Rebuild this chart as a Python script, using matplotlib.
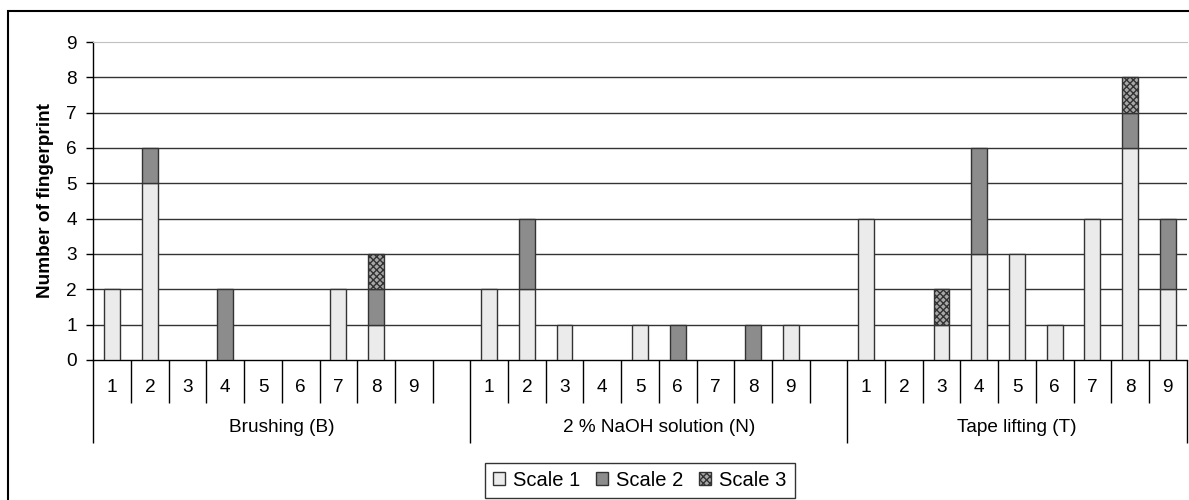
import matplotlib.pyplot as plt
import numpy as np
from matplotlib.patches import Rectangle

plt.rcParams['font.family'] = ['Liberation Sans', 'DejaVu Sans']

groups = ['Brushing (B)', '2 % NaOH solution (N)', 'Tape lifting (T)']
samples = ['1', '2', '3', '4', '5', '6', '7', '8', '9']

# counts per sample, one row per group
scale1 = [[2, 5, 0, 0, 0, 0, 2, 1, 0],
          [2, 2, 1, 0, 1, 0, 0, 0, 1],
          [4, 0, 1, 3, 3, 1, 4, 6, 2]]
scale2 = [[0, 1, 0, 2, 0, 0, 0, 1, 0],
          [0, 2, 0, 0, 0, 1, 0, 1, 0],
          [0, 0, 0, 3, 0, 0, 0, 1, 2]]
scale3 = [[0, 0, 0, 0, 0, 0, 0, 1, 0],
          [0, 0, 0, 0, 0, 0, 0, 0, 0],
          [0, 0, 1, 0, 0, 0, 0, 1, 0]]

n = len(samples)
slot = n + 1  # one empty slot after each group
x = np.concatenate([np.arange(n) + g * slot for g in range(len(groups))])
s1 = np.array(scale1).ravel()
s2 = np.array(scale2).ravel()
s3 = np.array(scale3).ravel()

FS = 13.7

fig = plt.figure(figsize=(11.89, 5.0), dpi=100)
ax = fig.add_axes([0.0785, 0.28, 0.9195, 0.636])

# outer chart frame
fig.add_artist(Rectangle((8 / 1189, -0.1), 1.2, 0.1 + 489 / 500,
                         transform=fig.transFigure, fill=False,
                         edgecolor='black', lw=1.5))

ax.hlines(np.arange(1, 9), -0.5, x[-1] + 0.5, color='#333333', lw=1, zorder=1)

w = 0.42
kw = dict(width=w, edgecolor='#333333', linewidth=1, zorder=3)


def stack(vals, bottom, **style):
    # skip empty segments so no stray edges appear on the baseline
    m = vals > 0
    return ax.bar(x[m], vals[m], bottom=bottom[m], **style, **kw)


zero = np.zeros_like(s1)
stack(s1, zero, color='#ebebeb', label='Scale 1')
stack(s2, s1, color='#8c8c8c', label='Scale 2')
stack(s3, s1 + s2, color='#a8a8a8', hatch='xxxxx', label='Scale 3')

ax.set_xlim(-0.5, x[-1] + 0.5)
ax.set_ylim(0, 9)
ax.set_yticks(range(10))
ax.tick_params(axis='y', direction='out', length=5, width=1, pad=7,
               labelsize=FS)

ax.spines['right'].set_visible(False)
ax.spines['top'].set_color('#c0c0c0')
ax.spines['left'].set_linewidth(1)
ax.spines['bottom'].set_linewidth(1)

# two-level category axis drawn with long/short ticks
edges = np.arange(-0.5, x[-1] + 1, 1.0)
long_edges = [g * slot - 0.5 for g in range(len(groups))] + [x[-1] + 0.5]
short_edges = [e for e in edges if e not in long_edges]
ax.set_xticks(long_edges)
ax.set_xticks(short_edges, minor=True)
ax.set_xticklabels([])
ax.tick_params(axis='x', which='major', length=60, width=1, direction='out')
ax.tick_params(axis='x', which='minor', length=31, width=1, direction='out')

trans = ax.get_xaxis_transform()
for xi, lab in zip(x, samples * len(groups)):
    ax.text(xi, -0.085, lab, transform=trans, ha='center', va='center',
            fontsize=FS)
for g, name in enumerate(groups):
    ax.text(g * slot + (n - 1) / 2 + (0.5 if g < 2 else 0), -0.211, name,
            transform=trans, ha='center', va='center', fontsize=FS)

ax.set_ylabel('Number of fingerprint', fontsize=FS, fontweight='bold',
              labelpad=9)

leg = fig.legend(loc='upper center', bbox_to_anchor=(0.538, 0.074), ncol=3,
                 frameon=True, fancybox=False, fontsize=14.5,
                 handlelength=0.62, handleheight=0.62, handletextpad=0.4,
                 columnspacing=0.75, borderpad=0.4, borderaxespad=0)
leg.get_frame().set_edgecolor('black')
leg.get_frame().set_linewidth(1)

fig.savefig('out.png', dpi=100)
